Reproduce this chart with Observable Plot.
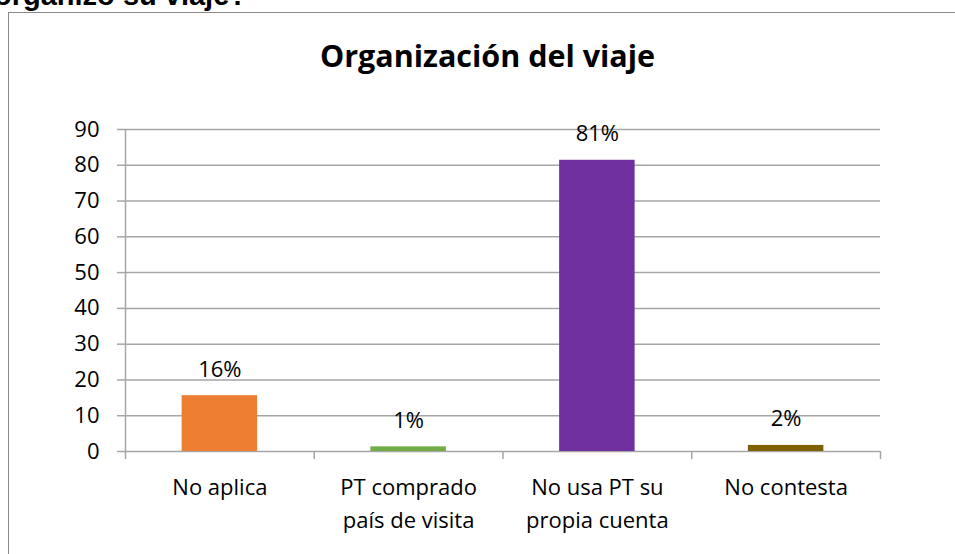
<!DOCTYPE html>
<html>
<head>
<meta charset="utf-8">
<script src="https://cdn.jsdelivr.net/npm/d3@7"></script>
<script src="https://cdn.jsdelivr.net/npm/@observablehq/plot@0.6"></script>
<style>
  html, body { margin: 0; padding: 0; background: #fff; overflow: hidden; }
  #wrap { position: relative; width: 955px; height: 554px; overflow: hidden; }
  #frame { position: absolute; left: 8px; top: 12px; width: 1100px; height: 700px;
           border-left: 1.5px solid #8a8a8a; border-top: 1.5px solid #8a8a8a; }
  #heading { position: absolute; left: -6px; top: -19.5px; font: bold 29px "Liberation Sans", Arial, sans-serif;
             line-height: 29px; white-space: nowrap; color: #000; }
  #title { position: absolute; left: 0; width: 975px; top: 40px; text-align: center;
           font: bold 30.5px "Open Sans", sans-serif; line-height: 30px; color: #000; }
  #chart { position: absolute; left: 0; top: 0; }
</style>
</head>
<body>
<div id="wrap">
  <div id="heading">organizó su viaje?</div>
  <div id="frame"></div>
  <div id="title">Organización del viaje</div>
  <div id="chart"></div>
</div>
<script>
const categories = ["No aplica", "PT comprado\npaís de visita", "No usa PT su\npropia cuenta", "No contesta"];
const values = [15.6, 1.3, 81.4, 1.7];
const labels = ["16%", "1%", "81%", "2%"];
const colors = ["#ED7D31", "#70AD47", "#7030A0", "#7F6000"];
const yTicks = [0, 10, 20, 30, 40, 50, 60, 70, 80, 90];

const data = categories.map((c, i) => ({i, category: c, value: values[i], label: labels[i], color: colors[i]}));
const centers = categories.map((c, i) => i + 0.5);
const bounds = d3.range(categories.length + 1);
const gray = "#a6a6a6";

const chart = Plot.plot({
  width: 955,
  height: 554,
  marginLeft: 125,
  marginRight: 75,
  marginTop: 129,
  marginBottom: 103,
  x: {domain: [0, categories.length], axis: null, label: null},
  y: {domain: [0, 90], axis: null, label: null},
  color: {type: "identity"},
  style: {fontFamily: "Open Sans, sans-serif", fontSize: "22px", color: "#000", background: "transparent"},
  marks: [
    Plot.ruleY(yTicks, {stroke: gray, strokeWidth: 1.5}),
    Plot.ruleX([0], {y1: 0, y2: 90, stroke: gray, strokeWidth: 1.5}),
    Plot.axisY({ticks: yTicks, label: null, tickSize: 8, tickPadding: 18, stroke: gray, strokeWidth: 1.5, strokeOpacity: 1, fontSize: 22}),
    Plot.axisX({ticks: bounds, label: null, tickSize: 8, tickFormat: () => "", stroke: gray, strokeWidth: 1.5, strokeOpacity: 1}),
    Plot.axisX({ticks: centers, label: null, tickSize: 0, tickPadding: 20, lineAnchor: "top", lineHeight: 1.5,
                tickFormat: (t) => categories[Math.floor(t)], fontSize: 22}),
    Plot.rectY(data, {x1: (d) => d.i + 0.3, x2: (d) => d.i + 0.7, y: "value", fill: "color"}),
    Plot.text(data, {x: (d) => d.i + 0.5, y: "value", text: "label", dy: -26, lineAnchor: "middle", fontSize: 22, fill: "#000"})
  ]
});
document.getElementById("chart").appendChild(chart);
</script>
</body>
</html>
